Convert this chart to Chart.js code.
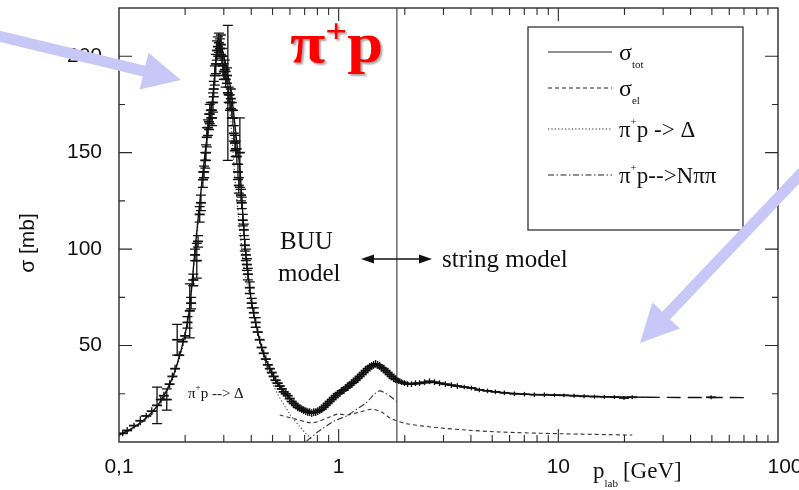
<!DOCTYPE html>
<html>
<head>
<meta charset="utf-8">
<script src="https://cdn.jsdelivr.net/npm/chart.js@4.4.1/dist/chart.umd.min.js"></script>
<style>
  html, body { margin: 0; padding: 0; background: #fff; }
  #wrap { width: 799px; height: 490px; }
</style>
</head>
<body>
<div id="wrap"><canvas id="xsec" width="799" height="490"></canvas></div>
<script>
// pi+ p cross sections, p_lab in GeV, sigma in mb

// total cross section (model curve)
const pTot = [0.1, 0.11, 0.12, 0.13, 0.14, 0.15, 0.16, 0.17, 0.18, 0.19,
  0.2, 0.21, 0.222, 0.238, 0.251, 0.265, 0.279, 0.285, 0.294, 0.303,
  0.313, 0.323, 0.333, 0.344, 0.355, 0.362, 0.374, 0.386, 0.402, 0.424,
  0.451, 0.486, 0.517, 0.551, 0.586, 0.624, 0.665, 0.708, 0.754, 0.803,
  0.855, 0.91, 0.969, 1.032, 1.099, 1.17, 1.246, 1.327, 1.413, 1.488,
  1.568, 1.652, 1.742, 1.835, 1.995, 2.215, 2.459, 2.731, 3.06, 3.47,
  4.02, 4.76, 5.68, 7.01, 8.64, 10.6, 13.1, 16.2, 19.9, 25,
  35, 50, 74];
const sigTot = [3.5, 6, 8.5, 11.5, 15, 19, 24, 30, 37, 46,
  56, 70, 100, 134, 157, 175, 203, 207, 204, 198,
  190, 183, 170, 155, 142, 127, 103, 88, 72, 59,
  47, 38, 32, 27.5, 24, 20.5, 17.5, 16, 15.3, 15.8,
  17.5, 20.5, 24, 26.5, 28.5, 31, 34, 37, 39.5, 40.5,
  39, 37, 34.5, 32.5, 30.5, 30, 30.5, 31, 30, 29,
  28, 26.5, 25.5, 24.8, 24.5, 24.2, 23.8, 23.5, 23.3, 23.2,
  23.1, 23.1, 23];

// elastic
const pEl = [0.539, 0.631, 0.762, 0.91, 0.99, 1.099, 1.246, 1.413, 1.568, 1.742,
  2.036, 2.79, 3.82, 5.39, 10.1, 21.7];
const sigEl = [14, 12, 10, 13, 14.5, 14, 15.5, 17, 15.5, 12,
  9.5, 7.5, 6.2, 5.2, 4.3, 3.6];

// pi+ p -> Delta
const pDelta = [0.1, 0.12, 0.14, 0.16, 0.18, 0.2, 0.222, 0.238, 0.251, 0.265,
  0.279, 0.285, 0.294, 0.31, 0.323, 0.337, 0.355, 0.374, 0.407, 0.451,
  0.506, 0.599, 0.665, 0.715, 0.762];
const sigDelta = [3, 8, 14, 23, 36, 55, 98, 132, 155, 173,
  201, 205, 200, 186, 166, 137, 110, 88, 68, 46,
  29, 14.5, 8, 4, 0.8];

// pi+ p -> N pi pi
const pNpipi = [0.715, 0.778, 0.846, 0.959, 1.087, 1.207, 1.34, 1.458, 1.536, 1.619, 1.706, 1.835];
const sigNpipi = [0.5, 4, 7, 11, 13.5, 17, 20.5, 25, 26.5, 25.5, 24, 21];

// measured points
const pData = [0.104, 0.109, 0.117, 0.125, 0.133, 0.141, 0.149, 0.155, 0.160, 0.165,
  0.170, 0.175, 0.180, 0.184, 0.188, 0.195, 0.200, 0.205, 0.210, 0.213,
  0.218, 0.222, 0.226, 0.229, 0.233, 0.236, 0.241, 0.244, 0.247, 0.249,
  0.251, 0.254, 0.257, 0.259, 0.262, 0.265, 0.268, 0.270, 0.273, 0.276,
  0.279, 0.282, 0.285, 0.288, 0.291, 0.294, 0.297, 0.300, 0.303, 0.306,
  0.310, 0.313, 0.316, 0.320, 0.323, 0.326, 0.330, 0.333, 0.337, 0.340,
  0.344, 0.348, 0.351, 0.355, 0.359, 0.362, 0.366, 0.370, 0.374, 0.378,
  0.382, 0.386, 0.394, 0.402, 0.411, 0.419, 0.428, 0.437, 0.446, 0.456,
  0.466, 0.476, 0.486, 0.496, 0.506, 0.517, 0.528, 0.539, 0.551, 0.562,
  0.574, 0.586, 0.599, 0.611, 0.624, 0.638, 0.651, 0.665, 0.679, 0.693,
  0.708, 0.723, 0.738, 0.754, 0.770, 0.786, 0.803, 0.820, 0.837, 0.855,
  0.873, 0.891, 0.910, 0.929, 0.949, 0.969, 0.990, 1.011, 1.032, 1.054,
  1.076, 1.099, 1.122, 1.146, 1.170, 1.195, 1.220, 1.246, 1.273, 1.299,
  1.327, 1.355, 1.384, 1.413, 1.443, 1.473, 1.504, 1.536, 1.568, 1.602,
  1.635, 1.670, 1.706, 1.742, 1.778, 1.816, 1.874, 1.934, 1.995, 2.059,
  2.146, 2.237, 2.334, 2.459, 2.592, 2.731, 2.878, 3.06, 3.26, 3.47,
  3.73, 4.02, 4.37, 4.76, 5.17, 5.68, 6.31, 7.01, 7.78, 8.64,
  9.6, 10.6, 11.8, 13.1, 14.6, 16.2, 18.0, 19.9, 21.7, 49.6];
const sigData = [4.5, 6, 8.5, 11, 13.5, 16, 19, 22, 24, 22,
  30, 34, 38, 53, 45, 52, 55, 62, 68, 72,
  84, 97, 94, 104, 118, 124, 136, 140, 146, 150,
  158, 163, 166, 170, 172, 168, 176, 183, 190, 196,
  203, 205, 207, 204, 206, 200, 195, 192, 193, 188,
  190, 181, 180, 176, 178, 172, 168, 160, 155, 152,
  148, 140, 133, 150, 128, 124, 115, 110, 102, 97,
  92, 87, 80, 72, 67, 62, 57, 53, 49, 46,
  43, 40, 38, 36, 34, 32, 30.5, 29, 27.5, 26,
  25, 24, 22.5, 21, 20, 19, 18, 17.5, 17, 16.5,
  16, 15.5, 15.5, 15, 15.5, 15.5, 16, 16.5, 17, 18,
  19, 20, 21, 22, 23, 24, 25, 25.5, 26.5, 27,
  28, 28.5, 29.5, 30.5, 31, 32, 33, 34, 35, 36,
  37, 38, 39, 39.5, 40, 40.5, 40, 39.5, 38.5, 38,
  37, 36, 35, 34, 33, 32.5, 31.5, 31, 30.5, 30,
  30, 30.5, 30.5, 31, 31.5, 31, 30.5, 30, 29.5, 29,
  28.5, 28, 27, 26.5, 26, 25.5, 25, 24.8, 24.5, 24.5,
  24.3, 24.2, 24, 23.7, 23.5, 23.4, 23.3, 22.8, 23.2, 23.2];
const errData = [1.5, 1.8, 1.5, 2.3, 1.5, 2, 9.5, 2, 2, 5.5,
  2, 2, 2, 8, 2, 2, 2, 3, 14, 3,
  3, 3, 9, 3, 4, 4, 4, 3, 4, 4,
  5, 4, 4, 5, 4, 4, 5, 4, 5, 5,
  5, 5, 5, 5, 5, 4, 5, 4, 5, 4,
  4, 35, 4, 4, 5, 4, 4, 4, 4, 4,
  4, 4, 4, 18, 3, 3, 3, 3, 3, 3,
  3, 3, 3, 2.5, 2.5, 2.5, 2, 2, 2, 2,
  2, 2, 2, 2, 2, 2, 2, 2, 2, 2,
  2, 2, 2, 2, 2, 2, 2, 2, 2, 2,
  2, 2, 2, 2, 2, 2, 2, 2, 2, 2,
  2, 2, 2, 2, 2, 2, 2, 2, 2, 2,
  2, 2, 2, 2, 2, 2, 2, 2, 2, 2,
  2, 2, 2, 2, 2, 2, 2, 2, 2, 2,
  2, 2, 2, 2, 2, 2, 1.5, 1.5, 1.5, 1.5,
  1.5, 1.5, 1.5, 1.5, 1.5, 1.5, 1.5, 1.5, 1.5, 1.5,
  1.2, 1.2, 1.2, 1.2, 1.2, 1.2, 1.2, 1.2, 1.2, 1.2,
  1, 1, 1, 1, 1, 1, 1, 1, 1, 1];

// axes
const xMajorTicks = [0.1, 1, 10, 100];
const xTickLabels = ['0,1', '1', '10', '100'];
const xMinorTicks = [0.2, 0.3, 0.4, 0.5, 0.6, 0.7, 0.8, 0.9, 2, 3, 4, 5, 6, 7, 8, 9,
  20, 30, 40, 50, 60, 70, 80, 90];
const yMajorTicks = [50, 100, 150, 200];
const yTickLabels = ['50', '100', '150', '200'];
const yMinorTicks = [25, 75, 125, 175];
const modelSwitch = 1.84; // BUU below, string model above

const SERIF = '"Liberation Serif", "Times New Roman", serif';
const SANS = '"Liberation Sans", Arial, sans-serif';

const pts = (xs, ys) => xs.map((v, i) => ({ x: v, y: ys[i] }));

// text with a lowered / raised small part
function richText(ctx, x, y, parts) {
  parts.forEach(p => {
    ctx.font = p.font;
    ctx.fillText(p.t, x, y + (p.dy || 0));
    x += ctx.measureText(p.t).width + (p.gap || 0);
  });
  return x;
}

function fatArrow(ctx, tail, tip, shaft, headLen, headHalf) {
  const dx = tip[0] - tail[0], dy = tip[1] - tail[1];
  const len = Math.hypot(dx, dy);
  const ux = dx / len, uy = dy / len, nx = -uy, ny = ux;
  const bx = tip[0] - ux * headLen, by = tip[1] - uy * headLen;
  ctx.beginPath();
  ctx.moveTo(tail[0] + nx * shaft / 2, tail[1] + ny * shaft / 2);
  ctx.lineTo(bx + nx * shaft / 2, by + ny * shaft / 2);
  ctx.lineTo(bx + nx * headHalf, by + ny * headHalf);
  ctx.lineTo(tip[0], tip[1]);
  ctx.lineTo(bx - nx * headHalf, by - ny * headHalf);
  ctx.lineTo(bx - nx * shaft / 2, by - ny * shaft / 2);
  ctx.lineTo(tail[0] - nx * shaft / 2, tail[1] - ny * shaft / 2);
  ctx.closePath();
  ctx.fill();
}

const overlay = {
  id: 'overlay',
  beforeDatasetsDraw(chart) {
    const { ctx, chartArea: a, scales: { x } } = chart;
    const xs = x.getPixelForValue(modelSwitch);
    ctx.save();
    ctx.strokeStyle = '#777';
    ctx.lineWidth = 1.6;
    ctx.beginPath();
    ctx.moveTo(xs, a.top);
    ctx.lineTo(xs, a.bottom);
    ctx.stroke();
    ctx.restore();
  },
  afterDatasetsDraw(chart) {
    // vertical error bars on the measured points
    const { ctx, scales: { y } } = chart;
    const meta = chart.getDatasetMeta(0);
    ctx.save();
    ctx.strokeStyle = '#111';
    ctx.lineWidth = 1.3;
    meta.data.forEach((pt, i) => {
      const top = y.getPixelForValue(sigData[i] + errData[i]);
      const bot = y.getPixelForValue(sigData[i] - errData[i]);
      ctx.beginPath();
      ctx.moveTo(pt.x, top);
      ctx.lineTo(pt.x, bot);
      if (bot - top > 9) {
        ctx.moveTo(pt.x - 5, top); ctx.lineTo(pt.x + 5, top);
        ctx.moveTo(pt.x - 5, bot); ctx.lineTo(pt.x + 5, bot);
      }
      ctx.stroke();
    });
    ctx.restore();
  },
  afterDraw(chart) {
    const { ctx, chartArea: a, scales: { x, y } } = chart;
    ctx.save();

    // frame + inward ticks on all four sides
    ctx.strokeStyle = '#2a2a2a';
    ctx.lineWidth = 1.4;
    ctx.strokeRect(a.left, a.top, a.right - a.left, a.bottom - a.top);
    ctx.lineWidth = 1.1;
    ctx.beginPath();
    const xt = (v, len) => {
      const px = x.getPixelForValue(v);
      ctx.moveTo(px, a.bottom); ctx.lineTo(px, a.bottom - len);
      ctx.moveTo(px, a.top); ctx.lineTo(px, a.top + len);
    };
    const yt = (v, len) => {
      const py = y.getPixelForValue(v);
      ctx.moveTo(a.left, py); ctx.lineTo(a.left + len, py);
      ctx.moveTo(a.right, py); ctx.lineTo(a.right - len, py);
    };
    xMinorTicks.forEach(v => xt(v, 7));
    xMajorTicks.slice(1, -1).forEach(v => xt(v, 13));
    yMinorTicks.forEach(v => yt(v, 6));
    yMajorTicks.forEach(v => yt(v, 13));
    ctx.stroke();

    // tick labels
    ctx.fillStyle = '#111';
    ctx.font = '21px ' + SANS;
    ctx.textAlign = 'right';
    ctx.textBaseline = 'middle';
    yMajorTicks.forEach((v, i) => ctx.fillText(yTickLabels[i], a.left - 17, y.getPixelForValue(v)));
    ctx.textAlign = 'center';
    ctx.textBaseline = 'alphabetic';
    xMajorTicks.forEach((v, i) => {
      const shift = i === xMajorTicks.length - 1 ? 7 : 0;
      ctx.fillText(xTickLabels[i], x.getPixelForValue(v) + shift, a.bottom + 31);
    });

    // axis titles
    ctx.save();
    ctx.translate(28, 243);
    ctx.rotate(-Math.PI / 2);
    ctx.font = '21px ' + SANS;
    ctx.textBaseline = 'middle';
    ctx.fillText('σ [mb]', 0, 0);
    ctx.restore();
    ctx.textAlign = 'left';
    richText(ctx, 593, 478, [
      { t: 'p', font: '23px ' + SERIF },
      { t: 'lab', font: '11px ' + SERIF, dy: 9, gap: 5 },
      { t: '[GeV]', font: '23px ' + SERIF }
    ]);

    // reaction label, slightly stretched sideways
    ctx.save();
    ctx.fillStyle = '#ff0000';
    ctx.shadowColor = 'rgba(0,0,0,0.35)';
    ctx.shadowOffsetX = 2;
    ctx.shadowOffsetY = 2;
    ctx.shadowBlur = 2;
    ctx.translate(290, 62);
    ctx.scale(1.13, 1);
    richText(ctx, 0, 0, [
      { t: 'π', font: 'bold 57px ' + SERIF },
      { t: '+', font: 'bold 34px ' + SERIF, dy: -20 },
      { t: 'p', font: 'bold 57px ' + SERIF }
    ]);
    ctx.restore();

    // model regions
    ctx.font = '25px ' + SERIF;
    ctx.fillText('BUU', 280, 249);
    ctx.fillText('model', 278, 281);
    ctx.fillText('string model', 442, 267);
    ctx.strokeStyle = '#111';
    ctx.lineWidth = 1.3;
    ctx.beginPath();
    ctx.moveTo(372, 259); ctx.lineTo(421, 259);
    ctx.stroke();
    ctx.beginPath();
    ctx.moveTo(361, 259); ctx.lineTo(374, 254.5); ctx.lineTo(374, 263.5); ctx.closePath();
    ctx.moveTo(432, 259); ctx.lineTo(419, 254.5); ctx.lineTo(419, 263.5); ctx.closePath();
    ctx.fill();
    richText(ctx, 188, 398, [
      { t: 'π', font: '15px ' + SERIF },
      { t: '+', font: '9px ' + SERIF, dy: -8 },
      { t: 'p --> Δ', font: '15px ' + SERIF }
    ]);

    // legend
    const lx = 528, ly = 27;
    ctx.strokeStyle = '#333';
    ctx.lineWidth = 1.3;
    ctx.strokeRect(lx, ly, 215, 203);
    const rows = [
      { dash: [], y: 52, parts: [{ t: 'σ', font: '24px ' + SERIF }, { t: 'tot', font: '11px ' + SERIF, dy: 8 }] },
      { dash: [4, 3], y: 88, parts: [{ t: 'σ', font: '24px ' + SERIF }, { t: 'el', font: '11px ' + SERIF, dy: 8 }] },
      { dash: [1.2, 2.2], y: 129, parts: [{ t: 'π', font: '23px ' + SERIF }, { t: '+', font: '11px ' + SERIF, dy: -12 },
        { t: 'p -> Δ', font: '23px ' + SERIF }] },
      { dash: [6, 2.5, 1.5, 2.5], y: 175, parts: [{ t: 'π', font: '23px ' + SERIF }, { t: '+', font: '11px ' + SERIF, dy: -12 },
        { t: 'p-->Nππ', font: '23px ' + SERIF }] }
    ];
    rows.forEach(r => {
      ctx.strokeStyle = '#222';
      ctx.lineWidth = 1.1;
      ctx.setLineDash(r.dash);
      ctx.beginPath();
      ctx.moveTo(548, r.y); ctx.lineTo(612, r.y);
      ctx.stroke();
      ctx.setLineDash([]);
      richText(ctx, 619, r.y + 8, r.parts);
    });

    // pointer arrows
    ctx.fillStyle = 'rgb(200,200,248)';
    fatArrow(ctx, [-10, 34], [181, 80], 11, 38, 19);
    fatArrow(ctx, [812, 162], [640, 343], 11, 38, 19);

    ctx.restore();
  }
};

const lineDefaults = { showLine: true, pointRadius: 0, borderWidth: 1.1, borderColor: '#333', tension: 0.3 };

new Chart(document.getElementById('xsec'), {
  type: 'scatter',
  data: {
    datasets: [
      {
        label: 'data',
        data: pts(pData, sigData),
        showLine: false,
        pointStyle: 'line',
        pointRadius: 5,
        pointBorderColor: '#111',
        pointBorderWidth: 1.8,
        pointHoverRadius: 5
      },
      Object.assign({}, lineDefaults, {
        label: 'σtot',
        data: pts(pTot, sigTot),
        borderColor: '#111',
        borderWidth: 1.4,
        segment: { borderDash: c => (c.p0.parsed.x >= 25 ? [14, 7] : undefined) }
      }),
      Object.assign({}, lineDefaults, { label: 'σel', data: pts(pEl, sigEl), borderDash: [4, 3] }),
      Object.assign({}, lineDefaults, { label: 'Δ', data: pts(pDelta, sigDelta), borderDash: [1.2, 2.2], borderColor: '#444' }),
      Object.assign({}, lineDefaults, { label: 'Nππ', data: pts(pNpipi, sigNpipi), borderDash: [6, 2.5, 1.5, 2.5] })
    ]
  },
  options: {
    responsive: false,
    animation: false,
    layout: { padding: { left: 119, right: 21, top: 8, bottom: 48 } },
    plugins: { legend: { display: false }, tooltip: { enabled: false } },
    scales: {
      x: { type: 'logarithmic', min: 0.1, max: 100, display: false },
      y: { type: 'linear', min: 0, max: 225, display: false }
    }
  },
  plugins: [overlay]
});
</script>
</body>
</html>
